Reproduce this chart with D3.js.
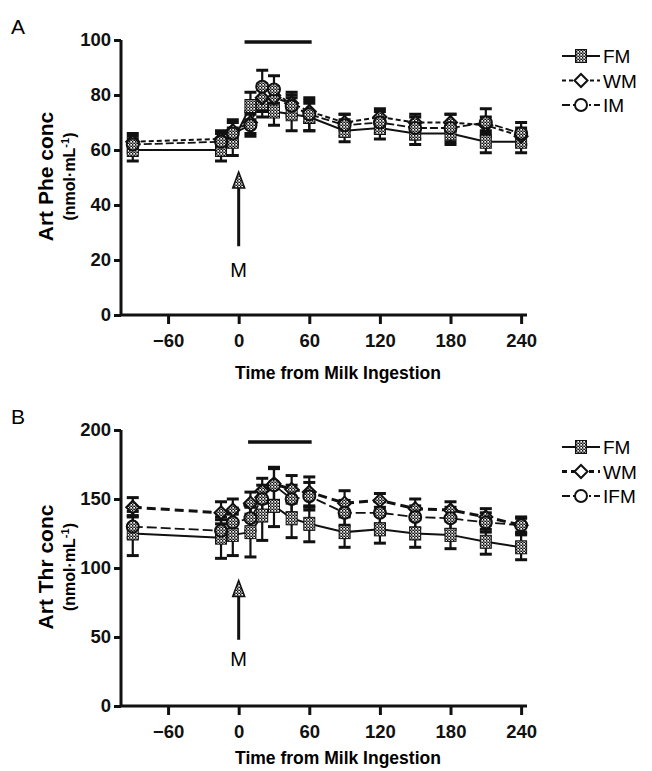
<!DOCTYPE html>
<html><head><meta charset="utf-8">
<script src="https://cdn.jsdelivr.net/npm/d3@7/dist/d3.min.js"></script>
<style>
body{margin:0;background:#fff;}
text{font-family:"Liberation Sans",Arial,sans-serif;}
</style></head>
<body><svg id="c" width="652" height="771"></svg>
<script>
const times = [-90, -15, -5, 10, 20, 30, 45, 60, 90, 120, 150, 180, 210, 240];
const xTicks = [-60, 0, 60, 120, 180, 240];

// Panel A: Art Phe
const pheFM = [60, 60, 63, 76, 77, 74, 73, 72, 67, 68, 66, 66, 63, 63];
const pheFMerr = [4, 4, 5, 5, 5, 5, 6, 5, 4, 4, 4, 4, 4, 4];
const pheWM = [63, 64, 67, 70, 79, 79, 77, 74, 70, 72, 70, 70, 69, 65];
const pheWMerr = [3, 3, 4, 4, 5, 4, 4, 4, 3, 3, 3, 3, 3, 3];
const pheIM = [62, 63, 66, 69, 83, 82, 76, 73, 69, 70, 68, 68, 70, 66];
const pheIMerr = [3, 3, 4, 4, 6, 5, 4, 6, 4, 4, 4, 5, 5, 4];
const pheTicks = [0, 20, 40, 60, 80, 100];

// Panel B: Art Thr
const thrFM = [125, 122, 124, 126, 138, 145, 136, 132, 126, 128, 125, 124, 119, 115];
const thrFMerr = [16, 15, 15, 18, 18, 15, 14, 13, 11, 10, 10, 10, 9, 9];
const thrWM = [144, 140, 142, 147, 156, 161, 157, 155, 147, 149, 143, 142, 137, 131];
const thrWMerr = [7, 8, 8, 8, 9, 12, 10, 11, 9, 5, 7, 6, 6, 5];
const thrIFM = [130, 127, 133, 136, 150, 160, 150, 152, 140, 140, 137, 136, 133, 131];
const thrIFMerr = [8, 8, 8, 9, 10, 12, 10, 10, 9, 8, 8, 8, 7, 6];
const thrTicks = [0, 50, 100, 150, 200];

const svg = d3.select("#c");
const defs = svg.append("defs");
const pat = defs.append("pattern").attr("id","chk").attr("width",3).attr("height",3).attr("patternUnits","userSpaceOnUse");
pat.append("rect").attr("width",3).attr("height",3).attr("fill","#999");
pat.append("rect").attr("width",1.5).attr("height",1.5).attr("fill","#111");
pat.append("rect").attr("x",1.5).attr("y",1.5).attr("width",1.5).attr("height",1.5).attr("fill","#111");
pat.append("rect").attr("x",1.5).attr("y",0).attr("width",1.5).attr("height",1.5).attr("fill","#fff");

function marker(g, type, x, y, fill) {
  if (type === "square") {
    g.append("rect").attr("x", x-5.5).attr("y", y-6.5).attr("width",11).attr("height",13)
      .attr("fill", fill).attr("stroke","#111").attr("stroke-width",1);
  } else if (type === "diamond") {
    g.append("path").attr("d", `M${x},${y-6.5}L${x+6.5},${y}L${x},${y+6.5}L${x-6.5},${y}Z`)
      .attr("fill", fill).attr("stroke","#111").attr("stroke-width",2);
  } else {
    g.append("circle").attr("cx", x).attr("cy", y).attr("r", 6)
      .attr("fill", fill).attr("stroke","#111").attr("stroke-width",2);
  }
}

function panel(cfg) {
  const x = d3.scaleLinear().domain([-100, 245]).range([121, 527]);
  const y = d3.scaleLinear().domain([0, cfg.ymax]).range([cfg.y0, cfg.y1]);
  const g = svg.append("g");

  g.append("text").attr("x", 11).attr("y", cfg.y1 - 6).attr("font-size", 21).text(cfg.letter);

  const ya = g.append("g").attr("transform", `translate(121,0)`)
    .call(d3.axisLeft(y).tickValues(cfg.yticks).tickSize(7).tickPadding(3));
  const xa = g.append("g").attr("transform", `translate(0,${cfg.y0})`)
    .call(d3.axisBottom(x).tickValues(xTicks).tickSize(9).tickPadding(10)
      .tickFormat(d => d < 0 ? "\u2212" + Math.abs(d) : d));
  [ya, xa].forEach(a => {
    a.select(".domain").attr("stroke", "#111").attr("stroke-width", 3);
    a.selectAll(".tick line").attr("stroke", "#111").attr("stroke-width", 3);
    a.selectAll(".tick text").attr("font-size", 18.5).attr("font-weight", "bold")
      .attr("font-family", "Liberation Sans, Arial, sans-serif").attr("fill", "#111");
  });
  ya.select(".domain").attr("d", `M0,${cfg.y1}V${cfg.y0}`);
  xa.select(".domain").attr("d", `M121,0H527`);

  const cy = (cfg.y0 + cfg.y1) / 2 - 1;
  g.append("text").attr("transform", `translate(53,${cy}) rotate(-90)`).attr("text-anchor","middle")
    .attr("font-size", 21).attr("font-weight","bold").text(cfg.ytitle);
  const t2 = g.append("text").attr("transform", `translate(75,${cy}) rotate(-90)`).attr("text-anchor","middle")
    .attr("font-size", 16).attr("font-weight","bold");
  t2.append("tspan").text("(nmol\u00B7mL");
  t2.append("tspan").attr("dy", -6).attr("font-size", 11).text("-1");
  t2.append("tspan").attr("dy", 6).text(")");
  g.append("text").attr("x", 338).attr("y", cfg.y0 + cfg.titleOff).attr("text-anchor","middle")
    .attr("font-size", 17.5).attr("font-weight","bold").text("Time from Milk Ingestion");

  g.append("line").attr("x1", x(cfg.bar[0])).attr("x2", x(cfg.bar[1]))
    .attr("y1", cfg.barY).attr("y2", cfg.barY).attr("stroke","#111").attr("stroke-width",3.5);

  // arrow
  g.append("line").attr("x1", x(0)).attr("x2", x(0)).attr("y1", y(cfg.arrow[0])).attr("y2", y(cfg.arrow[1]) + 12)
    .attr("stroke","#111").attr("stroke-width",3);
  const ty = y(cfg.arrow[1]);
  g.append("path").attr("d", `M${x(0)},${ty}L${x(0)+6},${ty+16}L${x(0)-6},${ty+16}Z`).attr("fill","url(#chk)")
    .attr("stroke","#111").attr("stroke-width",1.5);
  g.append("text").attr("x", x(0)).attr("y", y(cfg.mY)).attr("text-anchor","middle")
    .attr("font-size", 20).text("M");

  cfg.series.forEach(s => {
    const line = d3.line().x((d,i) => x(times[i])).y(d => y(d));
    g.append("path").datum(s.values).attr("d", line).attr("fill","none")
      .attr("stroke","#111").attr("stroke-width", s.width).attr("stroke-dasharray", s.dash);
  });
  cfg.series.forEach(s => {
    const eg = g.append("g");
    s.values.forEach((v, i) => {
      const xx = x(times[i]);
      const e = s.err[i];
      eg.append("line").attr("x1", xx).attr("x2", xx).attr("y1", y(v + e)).attr("y2", y(v - e))
        .attr("stroke","#111").attr("stroke-width", 2.2);
      [v + e, v - e].forEach(c => eg.append("line").attr("x1", xx - 6).attr("x2", xx + 6)
        .attr("y1", y(c)).attr("y2", y(c)).attr("stroke","#111").attr("stroke-width", 3));
    });
  });
  cfg.series.forEach(s => {
    const mg = g.append("g");
    s.values.forEach((v, i) => marker(mg, s.type, x(times[i]), y(v), "url(#chk)"));
  });

  cfg.series.forEach((s, i) => {
    const ly = cfg.legY + i * 24.5;
    g.append("line").attr("x1", 562).attr("x2", 600).attr("y1", ly).attr("y2", ly)
      .attr("stroke","#111").attr("stroke-width", s.width).attr("stroke-dasharray", s.legDash);
    marker(g, s.type, 581, ly, s.type === "square" ? "url(#chk)" : "#fff");
    g.append("text").attr("x", 603).attr("y", ly + 7).attr("font-size", 19).text(s.name);
  });
}

panel({
  letter: "A", y0: 315, y1: 40, ymax: 100, yticks: pheTicks, ytitle: "Art Phe conc",
  bar: [5, 62], barY: 42, arrow: [25, 52], mY: 14, legY: 56, titleOff: 64,
  series: [
    {name: "FM", type: "square", values: pheFM, err: pheFMerr, dash: null, legDash: null, width: 2},
    {name: "WM", type: "diamond", values: pheWM, err: pheWMerr, dash: "5,3", legDash: "4,3", width: 2},
    {name: "IM", type: "circle", values: pheIM, err: pheIMerr, dash: "8,3", legDash: "8,3,2,3", width: 1.8}
  ]
});
panel({
  letter: "B", y0: 706, y1: 430, ymax: 200, yticks: thrTicks, ytitle: "Art Thr conc",
  bar: [8, 62], barY: 442, arrow: [48, 91], mY: 29, legY: 447, titleOff: 58,
  series: [
    {name: "FM", type: "square", values: thrFM, err: thrFMerr, dash: null, legDash: null, width: 2},
    {name: "WM", type: "diamond", values: thrWM, err: thrWMerr, dash: "9,5", legDash: "5,4", width: 3},
    {name: "IFM", type: "circle", values: thrIFM, err: thrIFMerr, dash: "10,4", legDash: "8,3,2,3", width: 1.8}
  ]
});
</script></body></html>
